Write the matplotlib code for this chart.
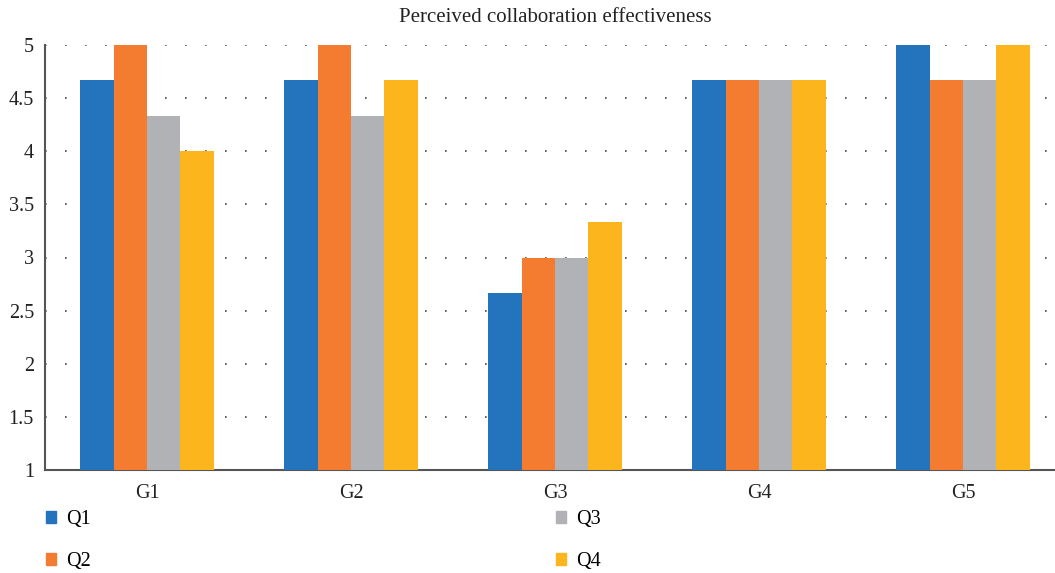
import numpy as np
import matplotlib.pyplot as plt
from matplotlib.patches import Patch

plt.rcParams['font.family'] = ['Liberation Serif', 'DejaVu Serif']

groups = ["G1", "G2", "G3", "G4", "G5"]
series = ["Q1", "Q2", "Q3", "Q4"]
q1 = [4.67, 4.67, 2.67, 4.67, 5.0]
q2 = [5.0, 5.0, 3.0, 4.67, 4.67]
q3 = [4.33, 4.33, 3.0, 4.67, 4.67]
q4 = [4.0, 4.67, 3.33, 4.67, 5.0]
colors = ["#2473bd", "#f47c30", "#b1b2b6", "#fcb51d"]

fig = plt.figure(figsize=(10.55, 5.73), dpi=100)
ax = fig.add_axes([45 / 1055, 1 - 470 / 573, 1020 / 1055, 425 / 573])

x = np.arange(len(groups))
w = 0.163
for i, vals in enumerate([q1, q2, q3, q4]):
    ax.bar(x + (i - 1.5) * w, np.array(vals) - 1, bottom=1, width=w,
           color=colors[i], zorder=3, label=series[i])

ax.set_ylim(1, 5)
ax.set_xlim(-0.5, 4.5)
ax.set_yticks(np.arange(1, 5.01, 0.5))
ax.set_yticklabels(["1", "1.5", "2", "2.5", "3", "3.5", "4", "4.5", "5"])
ax.set_xticks(x)
ax.set_xticklabels(groups)
ax.tick_params(axis='both', length=0, labelsize=14.5, colors="#222222")
ax.tick_params(axis='x', pad=10)
ax.tick_params(axis='y', pad=8)
ax.grid(axis='y', linestyle=(0, (1, 11)), color="#444444", linewidth=1.2, zorder=0)

for s in ["top", "right"]:
    ax.spines[s].set_visible(False)
for s in ["left", "bottom"]:
    ax.spines[s].set_color("#555555")
    ax.spines[s].set_linewidth(1.5)

fig.text(555 / 1055, 1 - 18 / 573, "Perceived collaboration effectiveness",
         ha='center', va='center', fontsize=15, color="#222222")

handles = [Patch(color=c) for c in colors]
fig.legend(handles, series, ncol=2, loc='upper left',
           bbox_to_anchor=(28 / 1055, 1 - 492 / 573), frameon=False,
           fontsize=14.5, handlelength=0.5, handleheight=0.5,
           handletextpad=0.5, columnspacing=23.1, labelspacing=1.15)

fig.savefig("out.png", dpi=100)
